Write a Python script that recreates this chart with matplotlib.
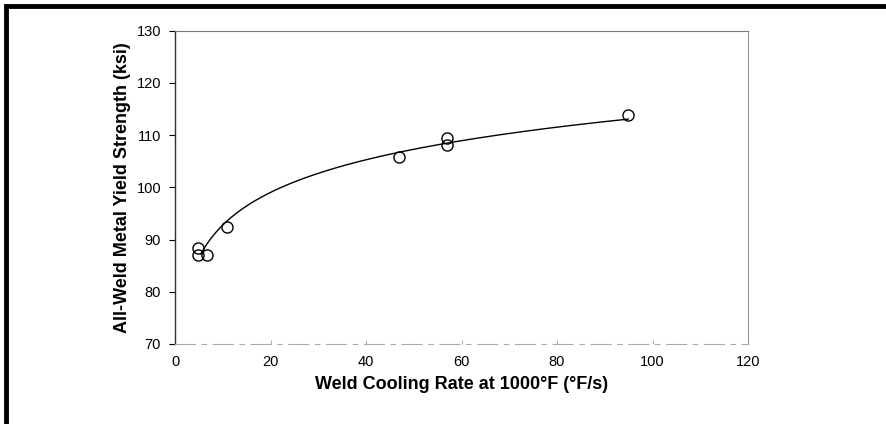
import numpy as np
import matplotlib.pyplot as plt
from matplotlib.patches import Rectangle

cooling_rate = [4.9, 4.9, 6.8, 10.8, 47.0, 56.9, 56.9, 94.9]
yield_strength = [88.4, 87.1, 87.1, 92.5, 105.8, 109.4, 108.1, 113.8]

x_ticks = [0, 20, 40, 60, 80, 100, 120]
y_ticks = [70, 80, 90, 100, 110, 120, 130]

plt.rcParams['font.family'] = ['Liberation Sans', 'DejaVu Sans']

fig = plt.figure(figsize=(8.87, 4.24), dpi=100)
ax = fig.add_axes([0.1973, 0.1887, 0.6460, 0.7389])

# logarithmic trendline fitted to the points
xs = np.array(cooling_rate)
ys = np.array(yield_strength)
a, b = np.polyfit(np.log(xs), ys, 1)
xf = np.linspace(xs.min() + 0.5, xs.max(), 200)
ax.plot(xf, a * np.log(xf) + b, color="k", lw=1.0)

ax.plot(cooling_rate, yield_strength, "o", ms=8, mfc="none", mec="k", mew=1.0)

ax.set_xlim(0, 120)
ax.set_ylim(70, 130)
ax.set_xticks(x_ticks)
ax.set_yticks(y_ticks)

ax.spines["left"].set_color("#333333")
ax.spines["left"].set_linewidth(1.0)
ax.spines["top"].set_color("#777777")
ax.spines["right"].set_color("#999999")
ax.spines["bottom"].set_color("#aaaaaa")
ax.spines["bottom"].set_linestyle((0, (18, 6, 4, 6)))

ax.tick_params(axis="y", direction="out", length=4, width=0.8, pad=6, labelsize=10.5)
ax.tick_params(axis="x", direction="in", length=3, width=0.6, pad=8, labelsize=10.5, color="#999999")

ax.set_xlabel("Weld Cooling Rate at 1000°F (°F/s)", fontsize=13, fontweight="bold", labelpad=5)
ax.set_ylabel("All-Weld Metal Yield Strength (ksi)", fontsize=13, fontweight="bold", labelpad=4)

# outer frame (right and bottom edges are cut off in the original)
fig.patches.append(Rectangle((6 / 887, -0.1), 1.2, 1.1 - 6 / 424, transform=fig.transFigure,
                             fill=False, ec="k", lw=3.5, zorder=10))

fig.savefig("out.png", dpi=100)
